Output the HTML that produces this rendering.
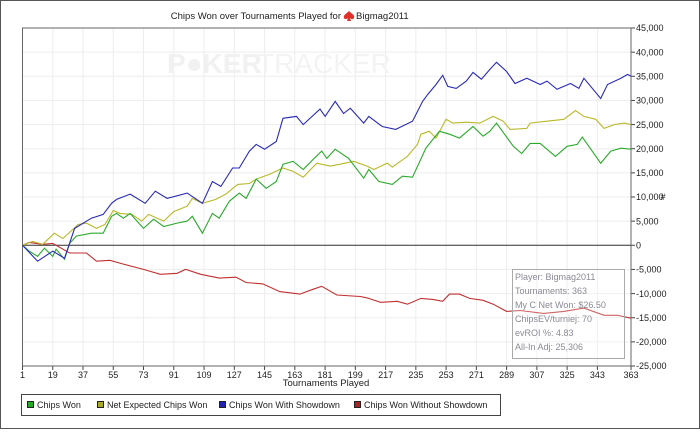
<!DOCTYPE html>
<html><head><meta charset="utf-8"><style>
html,body{margin:0;padding:0;background:#fff;}
svg text{font-family:"Liberation Sans",sans-serif;}
</style></head><body>
<svg id="chart" width="700" height="429" xmlns="http://www.w3.org/2000/svg">
<rect x="0.5" y="0.5" width="699" height="428" fill="#fff" stroke="#555"/>
<g id="grid"></g>
<g>
<text x="167" y="73" font-size="28" font-weight="bold" fill="#f1f1f1">P<tspan>●</tspan>KER</text>
<text x="257" y="73" font-size="28" fill="#f3f3f3">TRACKER</text>
</g>
<text x="341" y="19" font-size="9.5" text-anchor="end" fill="#222">Chips Won over Tournaments Played for</text>
<path d="M349 11 C346 14 343 15 344 18 C345 20 347 19 348 18 L347 21 L351 21 L350 18 C351 19 353 20 354 18 C355 15 352 14 349 11Z" fill="#e0302a"/>
<text x="356" y="19" font-size="9.5" fill="#222">Bigmag2011</text>
<g id="axes"></g>
<g id="series"></g>
<text x="326" y="386" font-size="9.5" text-anchor="middle" fill="#222">Tournaments Played</text>
<text x="663" y="200" font-size="9" text-anchor="middle" fill="#222">#</text>
<g>
<rect x="512.5" y="269.5" width="112" height="89" fill="rgba(255,255,255,0.25)" stroke="#aaa"/>
<g font-size="9" fill="#8a8a96">
<text x="515" y="280">Player: Bigmag2011</text>
<text x="515" y="294">Tournaments: 363</text>
<text x="515" y="308">My C Net Won: $26.50</text>
<text x="515" y="322">ChipsEV/turniej: 70</text>
<text x="515" y="336">evROI %: 4.83</text>
<text x="515" y="350">All-In Adj: 25,306</text>
</g></g>
<g>
<rect x="21.5" y="394.5" width="479" height="21" fill="#fff" stroke="#444"/>
<g><rect x="27.5" y="401.5" width="6" height="6" fill="#22aa22" stroke="#222"/><text x="37" y="408" font-size="9" fill="#222">Chips Won</text></g>
<g><rect x="97.5" y="401.5" width="6" height="6" fill="#aaaa22" stroke="#222"/><text x="107" y="408" font-size="9" fill="#222">Net Expected Chips Won</text></g>
<g><rect x="219.5" y="401.5" width="6" height="6" fill="#2222aa" stroke="#222"/><text x="229" y="408" font-size="9" fill="#222">Chips Won With Showdown</text></g>
<g><rect x="354.5" y="401.5" width="6" height="6" fill="#aa2222" stroke="#222"/><text x="364" y="408" font-size="9" fill="#222">Chips Won Without Showdown</text></g>
</g>
</svg>
<script>
const xTicks=[1,19,37,55,73,91,109,127,145,163,181,199,217,235,253,271,289,307,325,343,363];
const yTicks=[-25000,-20000,-15000,-10000,-5000,0,5000,10000,15000,20000,25000,30000,35000,40000,45000];
const blueT=[1,10,19,26,32,42,49,54,57,65,74,80,87,99,108,114,119,126,130,136,140,145,152,156,164,168,178,181,187,192,196,204,207,215,223,233,239,242,247,251,254,259,265,269,274,279,283,289,294,301,309,313,319,327,332,335,345,349,357,361,363];
const blueV=[0,-3300,-1200,-2700,3500,5600,6400,8700,9500,10600,8700,11200,9700,10800,8700,13200,12200,16000,16000,19500,20900,19900,21500,26300,26700,25000,28200,26700,29800,27300,28400,25300,26700,24600,24000,25700,29800,31200,33300,35200,32900,32500,34000,35800,34400,36400,37900,36000,33500,34600,33300,34000,32300,33500,32500,34600,30400,33300,34600,35400,35000];
const greenT=[1,5,10,14,19,21,26,29,33,42,49,54,57,61,65,73,79,85,93,99,102,108,114,118,124,130,134,140,146,152,156,162,168,174,179,182,187,195,204,207,213,221,227,233,241,249,255,261,269,275,279,283,293,298,303,309,318,325,331,334,345,351,357,363];
const greenV=[0,-1200,-2300,-600,-2300,-800,-2900,400,1900,2500,2500,6000,6600,5600,6600,3500,5400,3900,4600,5000,6000,2500,6600,5600,9100,10800,9700,13700,11800,13200,16800,17400,15700,17800,19500,18000,19900,18000,13900,15700,13200,12600,14300,14100,20100,23600,23000,22200,24600,22600,23600,25300,20500,19000,21100,21100,18400,20500,20900,22400,17000,19500,20100,19900];
const yellowT=[1,7,13,20,25,31,34,39,45,50,55,59,66,72,76,85,91,99,102,108,116,122,129,136,140,148,156,162,168,176,184,190,198,206,210,218,221,230,236,238,243,247,253,257,265,273,281,287,291,301,303,313,323,330,335,342,347,353,359,363];
const yellowV=[0,800,200,2500,1400,3300,4300,4600,3500,4300,7200,6600,6400,5000,6400,5000,7000,8100,9700,8700,9500,10600,12600,12800,13700,14700,16000,15300,14100,17000,16400,16800,17400,16400,15700,17000,16200,18400,20900,23000,23600,22200,26100,25300,25500,25300,26700,25700,24000,24200,25300,25700,26100,27900,26700,26100,24200,25000,25300,25000];
const redT=[1,5,13,19,29,39,45,53,61,73,83,93,98,107,118,128,134,144,154,166,174,179,188,202,206,214,224,230,238,245,251,255,261,267,275,281,289,297,311,323,335,347,355,363];
const redV=[0,600,200,400,-1600,-1600,-3300,-3100,-3900,-5000,-6000,-5800,-5000,-6000,-6800,-6600,-7700,-8000,-9600,-10100,-9100,-8500,-10300,-10600,-10900,-11800,-11600,-12200,-11000,-11200,-11600,-10100,-10100,-11000,-11400,-12200,-13700,-13500,-14100,-13700,-13000,-14500,-14500,-15100];

const L=22.5,R=631,T=28,B=366,xMin=1,xMax=363,yMin=-25000,yMax=45000;
const sx=t=>L+(t-xMin)/(xMax-xMin)*(R-L);
const sy=v=>B-(v-yMin)/(yMax-yMin)*(B-T);
const NS="http://www.w3.org/2000/svg";
function mk(tag,attrs,parent){const e=document.createElementNS(NS,tag);for(const k in attrs)e.setAttribute(k,attrs[k]);parent.appendChild(e);return e;}
const grid=document.getElementById('grid'),axes=document.getElementById('axes'),series=document.getElementById('series');
xTicks.forEach(t=>{
  const l=mk('line',{x1:sx(t),x2:sx(t),y1:T,y2:B,stroke:'#ededed'},grid);
  
  
  const tk=mk('line',{x1:sx(t),x2:sx(t),y1:B,y2:B+4,stroke:'#444'},axes);
  
  
  const tx=mk('text',{x:sx(t),y:B+12,'font-size':9,'text-anchor':'middle',fill:'#222'},axes);
  tx.textContent=t;
  
  
});
yTicks.forEach(v=>{
  const l=mk('line',{x1:L,x2:R,y1:sy(v),y2:sy(v),stroke:'#ededed'},grid);
  
  
  const tk=mk('line',{x1:R,x2:R+4,y1:sy(v),y2:sy(v),stroke:'#444'},axes);
  
  
  const tx=mk('text',{x:R+5,y:sy(v)+3.2,'font-size':9,fill:'#222'},axes);
  tx.textContent=v.toLocaleString('en-US');
  
  
});
const frame=mk('rect',{x:L,y:T,width:R-L,height:B-T,fill:'none',stroke:'#666'},axes);


const zl=mk('line',{x1:L,x2:R,y1:sy(0),y2:sy(0),stroke:'#333'},axes);


function draw(ts,vs,color,name){
  const d=ts.map((t,i)=>(i?'L':'M')+sx(t).toFixed(1)+' '+sy(vs[i]).toFixed(1)).join(' ');
  const p=mk('path',{d:d,fill:'none',stroke:color,'stroke-width':1.1},series);
  
  
}
draw(redT,redV,'#c03030','line-chips-won-without-showdown');
draw(yellowT,yellowV,'#b8b828','line-net-expected-chips-won');
draw(greenT,greenV,'#2aaa2a','line-chips-won');
draw(blueT,blueV,'#2a2ab8','line-chips-won-with-showdown');
</script>
</body></html>
